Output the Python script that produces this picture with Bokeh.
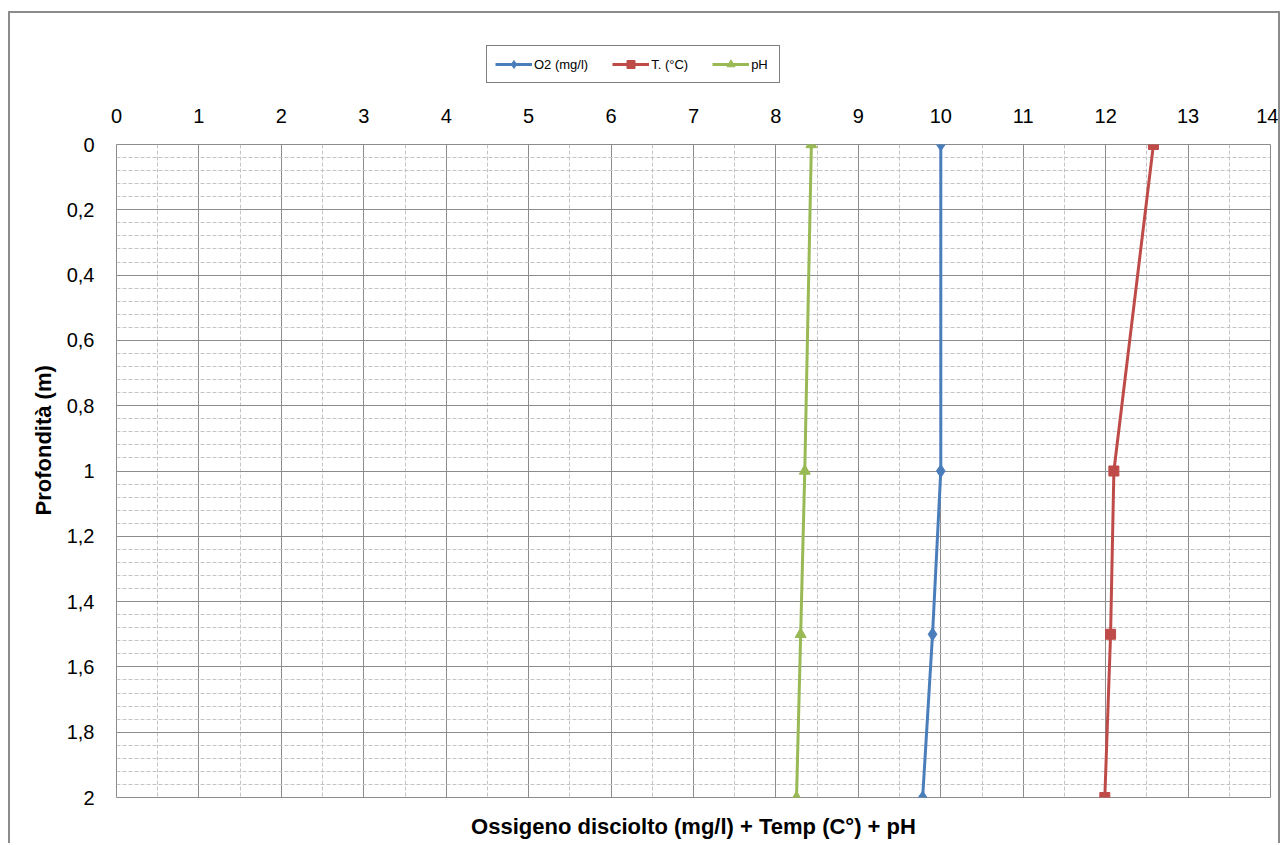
from bokeh.plotting import figure
from bokeh.layouts import column
from bokeh.models import Range1d, FixedTicker, LinearAxis, Legend, LegendItem, Title
from bokeh.embed import file_html
from bokeh.resources import INLINE

# ---- data ----
depth = [0, 1, 1.5, 2]
o2 = [10.0, 10.0, 9.9, 9.78]
temp = [12.58, 12.1, 12.06, 11.99]
ph = [8.43, 8.35, 8.3, 8.25]

series = [o2, temp, ph]
series_labels = ["O2 (mg/l)", "T. (°C)", "pH"]
series_colors = ["#4A7EBB", "#BE4B48", "#98B954"]
series_markers = ["diamond", "square", "triangle"]
marker_sizes = [13, 10, 11]

x_ticks = list(range(0, 15))
y_ticks = [0, 0.2, 0.4, 0.6, 0.8, 1.0, 1.2, 1.4, 1.6, 1.8, 2.0]
y_tick_labels = ["0", "0,2", "0,4", "0,6", "0,8", "1", "1,2", "1,4", "1,6", "1,8", "2"]

x_title = "Ossigeno disciolto (mg/l) + Temp (C°) + pH"
y_title = "Profondità (m)"

# grid subdivisions
x_minor = [i + 0.5 for i in range(14)]
y_minor = [round(i * 0.04, 2) for i in range(51) if i % 5 != 0]

FONT = "Liberation Sans"
GRID_MAJOR = "#8c8c8c"
GRID_MINOR = "#c4c4c4"
W = 1268

# ---------------- main chart ----------------
p = figure(width=W, height=746,
           x_range=Range1d(0, 14), y_range=Range1d(2, 0),
           x_axis_location="above",
           output_backend="svg", toolbar_location=None,
           min_border_left=106, min_border_right=8,
           min_border_top=47, min_border_bottom=46,
           background_fill_color="white", border_fill_color="white")

p.outline_line_color = GRID_MAJOR
p.outline_line_width = 1

xa = p.xaxis[0]
xa.ticker = FixedTicker(ticks=x_ticks)
xa.major_label_text_font = FONT
xa.major_label_text_font_size = "20px"
xa.major_label_text_color = "black"
xa.major_tick_line_color = None
xa.minor_tick_line_color = None
xa.major_tick_out = 0
xa.major_tick_in = 0
xa.axis_line_color = None
xa.major_label_standoff = 22

ya = p.yaxis[0]
ya.ticker = FixedTicker(ticks=y_ticks)
ya.major_label_overrides = {t: lab for t, lab in zip(y_ticks, y_tick_labels)}
ya.major_label_text_font = FONT
ya.major_label_text_font_size = "20px"
ya.major_label_text_color = "black"
ya.major_tick_line_color = None
ya.minor_tick_line_color = None
ya.major_tick_out = 0
ya.major_tick_in = 0
ya.axis_line_color = None
ya.major_label_standoff = 22

ytitle = Title(text=y_title, align="left", offset=282, standoff=16,
               text_font=FONT, text_font_size="22px", text_font_style="bold",
               text_color="black")
p.add_layout(ytitle, "left")

bax = LinearAxis(ticker=FixedTicker(ticks=[]), axis_label=x_title,
                 axis_label_text_font=FONT, axis_label_text_font_size="22px",
                 axis_label_text_font_style="bold", axis_label_text_color="black",
                 axis_line_color=None, major_tick_line_color=None,
                 minor_tick_line_color=None, major_tick_out=0,
                 axis_label_standoff=16)
p.add_layout(bax, "below")

p.xgrid.ticker = FixedTicker(ticks=x_ticks, minor_ticks=x_minor)
p.ygrid.ticker = FixedTicker(ticks=y_ticks, minor_ticks=y_minor)
for g in (p.xgrid[0], p.ygrid[0]):
    g.grid_line_color = GRID_MAJOR
    g.grid_line_width = 1
    g.minor_grid_line_color = GRID_MINOR
    g.minor_grid_line_width = 1
    g.minor_grid_line_dash = "4 2"

for vals, col, mk, sz in zip(series, series_colors, series_markers, marker_sizes):
    p.line(vals, depth, line_color=col, line_width=3)
    p.scatter(vals, depth, marker=mk, size=sz, fill_color=col, line_color=col)

# ---------------- legend strip above the chart ----------------
lf = figure(width=W, height=84, x_range=Range1d(-100, -99), y_range=Range1d(-100, -99),
            x_axis_type=None, y_axis_type=None,
            output_backend="svg", toolbar_location=None, min_border=0,
            outline_line_color=None,
            background_fill_color="white", border_fill_color="white")
items = []
for vals, lab, col, mk, sz in zip(series, series_labels, series_colors,
                                  series_markers, marker_sizes):
    ln = lf.line(vals, depth, line_color=col, line_width=3)
    sc = lf.scatter(vals, depth, marker=mk, size=sz, fill_color=col, line_color=col)
    items.append(LegendItem(label=lab, renderers=[ln, sc]))

legend = Legend(items=items, orientation="horizontal", location=(370, 14),
                border_line_color="black", border_line_width=1,
                background_fill_color="white", background_fill_alpha=1,
                padding=8, spacing=24, margin=0,
                glyph_width=37, glyph_height=20, label_height=20,
                label_standoff=2,
                label_text_font=FONT, label_text_font_size="13px",
                label_text_color="black")
lf.add_layout(legend, "center")

page = column(lf, p, spacing=0)
page.styles = {"margin-top": "11px",
               "margin-left": "8px",
               "border-top": "2px solid #8c8c8c",
               "border-left": "2px solid #8c8c8c",
               "border-right": "2px solid #8c8c8c"}

open("out.html", "w").write(file_html(page, INLINE))
